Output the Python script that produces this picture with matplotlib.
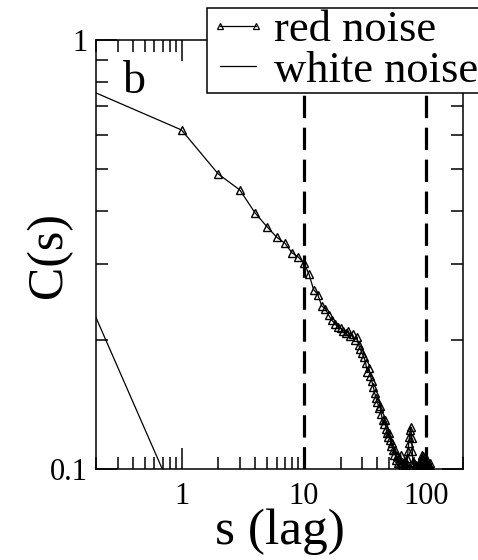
import matplotlib.pyplot as plt
from matplotlib.legend_handler import HandlerLine2D
from matplotlib.lines import Line2D
from matplotlib.ticker import FixedLocator, NullFormatter

plt.rcParams['font.family'] = ['Liberation Serif', 'DejaVu Serif']

# red noise autocorrelation, lag 0.1 (clipped at left edge) then 1..110
red_lag = [0.1] + list(range(1, 111))
red_c = [
    0.82,
    0.617, 0.487, 0.447, 0.395, 0.367, 0.347, 0.336, 0.319, 0.312, 0.302,
    0.285, 0.262, 0.255, 0.240, 0.236, 0.228, 0.222, 0.218, 0.214, 0.213,
    0.210, 0.207, 0.210, 0.204, 0.206, 0.200, 0.203, 0.195, 0.190, 0.186,
    0.182, 0.177, 0.168, 0.172, 0.165, 0.160, 0.155, 0.150, 0.146, 0.143,
    0.139, 0.140, 0.134, 0.130, 0.127, 0.130, 0.124, 0.121, 0.119, 0.121,
    0.117, 0.113, 0.115, 0.111, 0.108, 0.111, 0.105, 0.107, 0.103, 0.106,
    0.103, 0.108, 0.101, 0.104, 0.100, 0.103, 0.100, 0.104, 0.102, 0.106,
    0.110, 0.115, 0.119, 0.123, 0.125, 0.118, 0.110, 0.104, 0.100, 0.103,
    0.101, 0.099, 0.102, 0.100, 0.098, 0.101, 0.103, 0.100, 0.102, 0.099,
    0.104, 0.106, 0.108, 0.107, 0.105, 0.103, 0.101, 0.104, 0.100, 0.102,
    0.105, 0.103, 0.101, 0.099, 0.102, 0.100, 0.103, 0.101, 0.098, 0.100,
]
white_lag = [0.1, 1]
white_c = [0.354, 0.079]
marker_lags = [10, 100]

x_major = [1, 10, 100]
x_labels = ['1', '10', '100']
y_major = [0.1, 1]
y_labels = ['0.1', '1']
x_minor = [0.2, 0.3, 0.4, 0.5, 0.6, 0.7, 0.8, 0.9,
           2, 3, 4, 5, 6, 7, 8, 9, 20, 30, 40, 50, 60, 70, 80, 90, 200]
y_minor = [0.2, 0.3, 0.4, 0.5, 0.6, 0.7, 0.8, 0.9]

fig = plt.figure(figsize=(4.78, 5.6), dpi=100)
ax = fig.add_axes([96 / 478, 1 - 469 / 560, 367 / 478, 429 / 560])

for s in marker_lags:
    ax.axvline(s, color='black', lw=2.3, ls=(0, (7, 3)), zorder=1)

ax.plot(red_lag, red_c, color='black', lw=0.9, marker='^', ms=5.5,
        mfc='none', mec='black', mew=1.0, zorder=3)
ax.plot(white_lag, white_c, color='black', lw=0.9, zorder=3)

ax.set_xscale('log')
ax.set_yscale('log')
ax.set_xlim(0.2, 200)
ax.set_ylim(0.1, 1)
ax.set_xticks(x_major)
ax.set_xticklabels(x_labels)
ax.set_yticks(y_major)
ax.set_yticklabels(y_labels)
ax.xaxis.set_minor_locator(FixedLocator(x_minor))
ax.yaxis.set_minor_locator(FixedLocator(y_minor))
ax.xaxis.set_minor_formatter(NullFormatter())
ax.yaxis.set_minor_formatter(NullFormatter())
ax.tick_params(which='both', direction='in', top=True, right=True,
               width=1.1, labelsize=22, colors='black')
ax.tick_params(which='major', length=15)
ax.tick_params(axis='x', which='major', pad=9)
ax.tick_params(axis='y', which='major', pad=6)
ax.tick_params(which='minor', length=8.5)
for sp in ax.spines.values():
    sp.set_linewidth(1.1)

ax.set_xlabel('s (lag)', fontsize=37)
ax.xaxis.set_label_coords(0.5, -0.093)
ax.set_ylabel('C(s)', fontsize=36)
ax.yaxis.set_label_coords(-0.065, 0.5)
ax.text(0.074, 0.876, 'b', transform=ax.transAxes, fontsize=33, va='baseline')

handles = [
    Line2D([], [], color='black', lw=0.9, marker='^', ms=4, mfc='none', mew=0.9),
    Line2D([], [], color='black', lw=0.9),
]
leg = fig.legend(handles, ['red noise', 'white noise'], loc='upper left',
                 bbox_to_anchor=(207 / 478, 1 - 8 / 560), fontsize=32,
                 frameon=True, fancybox=False, framealpha=1, edgecolor='black',
                 borderpad=0.05, labelspacing=0.01, handlelength=1.3,
                 handletextpad=0.16, borderaxespad=0, numpoints=2,
                 handler_map={Line2D: HandlerLine2D(marker_pad=0.25, numpoints=2)})
leg.get_frame().set_linewidth(1.1)

fig.savefig('out.png', dpi=100)
